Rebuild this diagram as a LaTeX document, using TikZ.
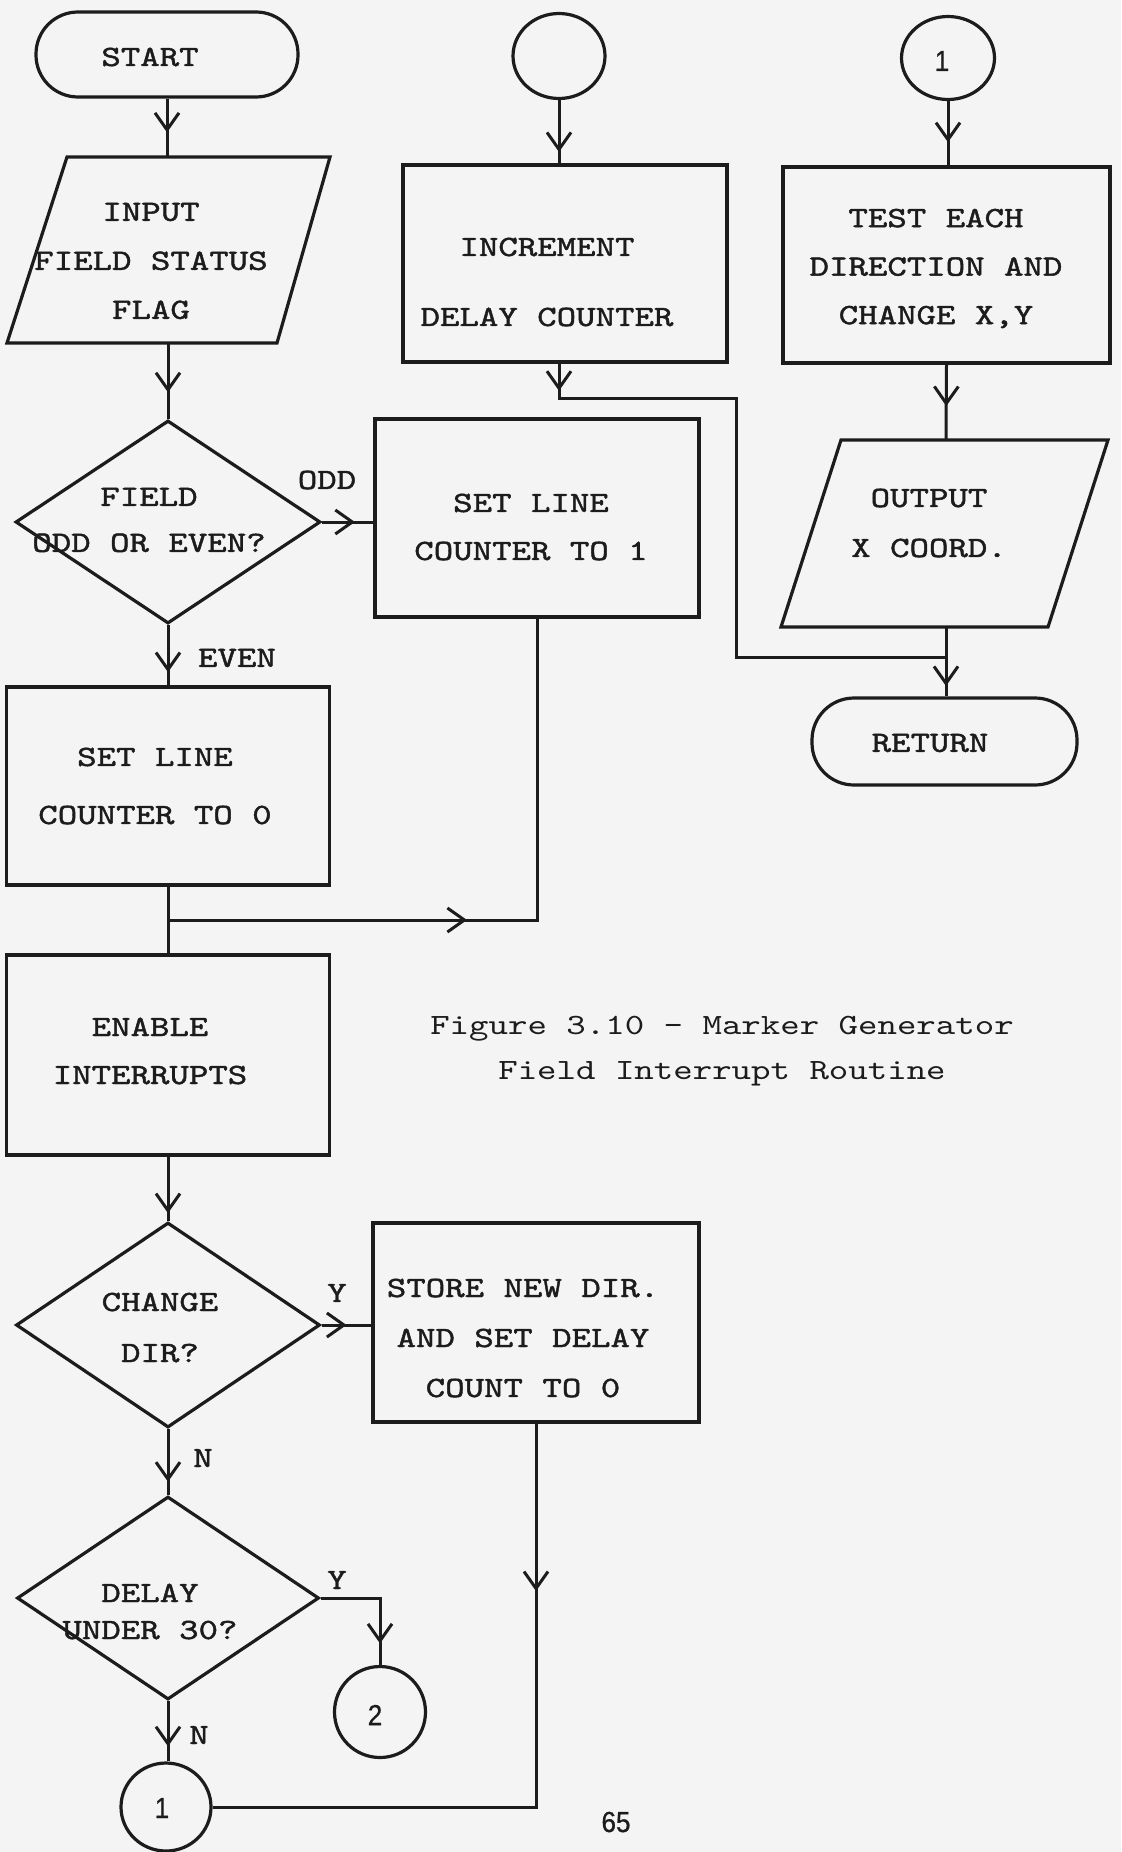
\documentclass[tikz,border=0pt]{standalone}
\usepackage{fontspec}
\usetikzlibrary{shapes.geometric,arrows.meta,decorations.markings}
\newfontfamily\tw[FakeStretch=1.26,FakeBold=1.5]{lmmono10-regular.otf}
\newfontfamily\twl[FakeStretch=1.26]{lmmono10-regular.otf}
\newfontfamily\nsans[FakeStretch=0.9,FakeBold=0.8]{Liberation Sans}
\definecolor{ink}{RGB}{28,28,28}
\definecolor{paper}{RGB}{244,244,244}
\tikzset{
  shp/.style={draw=ink, line width=1.6pt, inner sep=0pt},
  bw/.style={minimum width=#1*0.5pt},
  bh/.style={minimum height=#1*0.5pt},
  box/.style={shp, rectangle},
  term/.style={shp, rectangle, rounded corners=21pt},
  dia/.style={shp, diamond},
  conn/.style={shp, ellipse},
  lbl/.style={font=\tw\fontsize{14.7pt}{24pt}\selectfont, text=ink, inner sep=0pt, align=center},
  ls/.style={font=\tw\fontsize{14.7pt}{#1}\selectfont},
  captxt/.style={font=\twl\fontsize{14.7pt}{22.5pt}\selectfont, text=ink, inner sep=0pt, align=center},
  numtxt/.style={font=\nsans\fontsize{14.5pt}{17pt}\selectfont, text=ink, inner sep=0pt},
  wire/.style={draw, color=ink, line width=1.5pt},
  marr/.style={postaction={decorate}, decoration={markings, mark=at position #1 with {\arrow{Straight Barb[length=8.5pt,width=12pt]}}}},
}
\begin{document}
\begin{tikzpicture}[x=0.5pt,y=-0.5pt]
\fill[paper] (0,0) rectangle (1121,1852);
\useasboundingbox (0,0) rectangle (1121,1852);

% ---------- left column ----------
\node[term, bw=262, bh=85] (start) at (167,54.5) {};
\node[lbl] (startT) at (150,57) {START};

\coordinate (inpTL) at (67,157);
\coordinate (inpTR) at (330,157);
\coordinate (inpBR) at (277,343);
\coordinate (inpBL) at (7,343);
\draw[shp] (inpTL) -- (inpTR) -- (inpBR) -- (inpBL) -- cycle;
\coordinate (inpN) at (168,157);
\coordinate (inpS) at (168,343);
\node[lbl, ls=24.5pt] (inpT) at (151,261) {INPUT\\FIELD STATUS\\FLAG};

\node[dia, bw=305, bh=203] (field) at (168,522) {};
\node[lbl, ls=23pt] (fieldT) at (149,520) {FIELD\\ODD OR EVEN?};
\node[lbl] (odd) at (327,480) {ODD};

\node[box, bw=324, bh=198] (setA) at (537,518) {};
\node[lbl] (setAT) at (531,527) {SET LINE\\COUNTER TO 1};

\node[lbl] (even) at (237,658) {EVEN};
\node[box, bw=323, bh=198] (setB) at (168,786) {};
\node[lbl, ls=29pt] (setBT) at (155,786) {SET LINE\\COUNTER TO 0};

\coordinate (jn) at (168,920);

\node[box, bw=323, bh=200] (enable) at (168,1055) {};
\node[lbl] (enableT) at (150,1051) {ENABLE\\INTERRUPTS};

\node[dia, bw=304, bh=205] (change) at (168,1325) {};
\node[lbl, ls=25.5pt] (changeT) at (160,1327.5) {CHANGE\\DIR?};
\node[lbl] (y1) at (337,1293) {Y};

\node[box, bw=326, bh=199] (store) at (536,1322.5) {};
\node[lbl, ls=25pt] (storeT) at (523,1338) {STORE NEW DIR.\\AND SET DELAY\\COUNT TO 0};

\node[lbl] (n1) at (203,1458) {N};
\node[dia, bw=302, bh=203] (delay) at (168,1598) {};
\node[lbl, ls=18.5pt] (delayT) at (150,1611.5) {DELAY\\UNDER 30?};
\node[lbl] (y2) at (337,1580) {Y};
\node[lbl] (n2) at (199,1735) {N};

\node[conn, bw=91, bh=91] (c2) at (380,1712) {};
\node[numtxt] (c2T) at (375,1715) {2};
\node[conn, bw=90, bh=88] (c1) at (166,1807) {};
\node[numtxt] (c1T) at (162,1808) {1};
\node[numtxt] (page) at (616,1822) {65};

% ---------- middle column ----------
\node[conn, bw=92, bh=85] (ctop) at (559,56) {};
\node[box, bw=324, bh=197] (incr) at (565,263.5) {};
\node[lbl, ls=35pt] (incrT) at (547,282) {INCREMENT\\DELAY COUNTER};
\coordinate (bend) at (736,398);

% ---------- right column ----------
\node[conn, bw=93, bh=83] (cone) at (948,58) {};
\node[numtxt] (coneT) at (942,61) {1};
\node[box, bw=327, bh=196] (test) at (946.5,265) {};
\node[lbl, ls=24.25pt] (testT) at (936,268.5) {TEST EACH\\DIRECTION AND\\CHANGE X,Y};

\coordinate (outTL) at (841,440);
\coordinate (outTR) at (1108,440);
\coordinate (outBR) at (1048,627);
\coordinate (outBL) at (781,627);
\draw[shp] (outTL) -- (outTR) -- (outBR) -- (outBL) -- cycle;
\coordinate (outN) at (946,440);
\coordinate (outS) at (946,627);
\node[lbl, ls=25pt] (outT) at (929,523) {OUTPUT\\X COORD.};
\coordinate (jr) at (946,657);

\node[term, bw=265, bh=87] (ret) at (944.5,741.5) {};
\node[lbl] (retT) at (930,743) {RETURN};

% ---------- caption ----------
\node[captxt] (caption) at (722,1051) {Figure 3.10 - Marker Generator\\Field Interrupt Routine};

% ---------- connectors ----------
\draw[wire, marr=0.58] (start.south) -- (start.south |- inpN);
\draw[wire, marr=0.65] (inpS) -- (field.north);
\draw[wire, marr=0.64] (field.east) -- (field.east -| setA.west);
\draw[wire, marr=0.78] (field.south) -- (setB.north);
\draw[wire] (setB.south) -- (enable.north);
\draw[wire, marr=0.446] (jn) -| (setA.south);
\draw[wire, marr=0.88] (enable.south) -- (change.north);
\draw[wire, marr=0.5] (change.east) -- (change.east -| store.west);
\draw[wire, marr=0.8] (change.south) -- (delay.north);
\draw[wire, marr=0.83] (delay.east) -| (c2.north);
\draw[wire, marr=0.75] (delay.south) -- (delay.south |- c1.north);
\draw[wire, marr=0.237] (store.south) |- (c1.east);
\draw[wire, marr=0.82] (ctop.south) -- (ctop.south |- incr.north);
\draw[wire, marr=0.04] (incr.south -| ctop.south) |- (bend) |- (jr);
\draw[wire, marr=0.64] (cone.south) -- (cone.south |- test.north);
\draw[wire, marr=0.55] (test.south) -- (outN);
\draw[wire, marr=0.85] (outS) -- (outS |- ret.north);
\end{tikzpicture}
\end{document}
